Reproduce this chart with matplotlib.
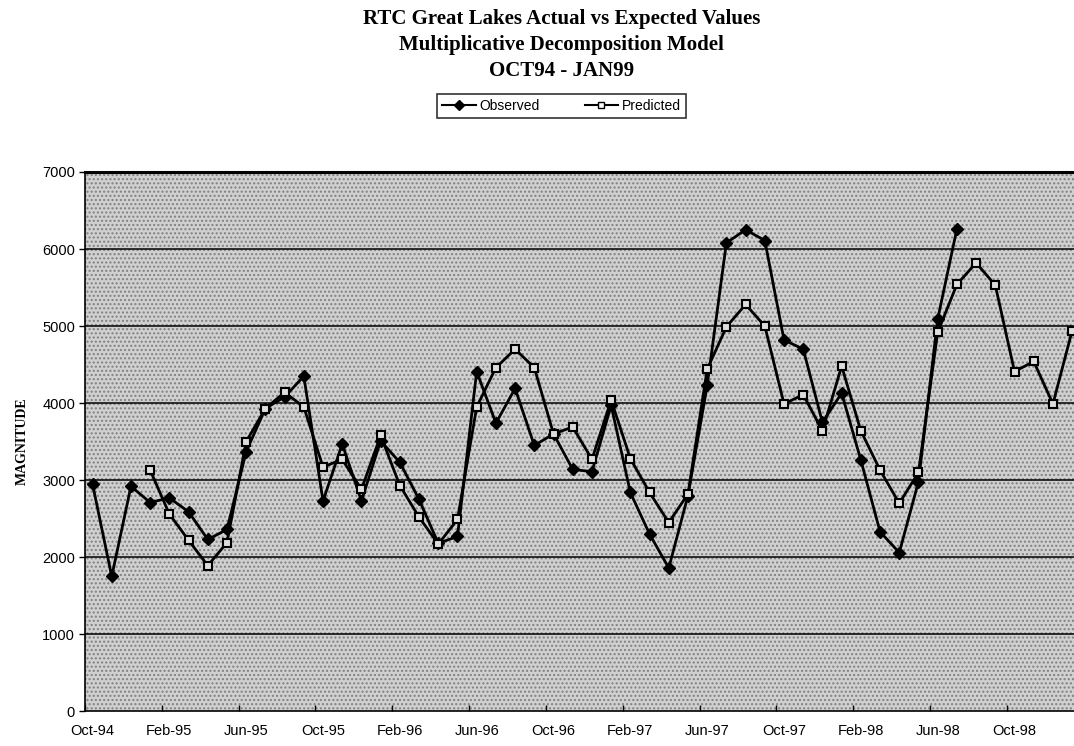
import matplotlib
matplotlib.use("Agg")
import matplotlib.pyplot as plt
import numpy as np
from matplotlib.patches import Rectangle
from matplotlib.lines import Line2D

# monthly categories Oct-94 .. Jan-99
months = ['Oct-94', 'Nov-94', 'Dec-94', 'Jan-95', 'Feb-95', 'Mar-95', 'Apr-95', 'May-95',
          'Jun-95', 'Jul-95', 'Aug-95', 'Sep-95', 'Oct-95', 'Nov-95', 'Dec-95', 'Jan-96',
          'Feb-96', 'Mar-96', 'Apr-96', 'May-96', 'Jun-96', 'Jul-96', 'Aug-96', 'Sep-96',
          'Oct-96', 'Nov-96', 'Dec-96', 'Jan-97', 'Feb-97', 'Mar-97', 'Apr-97', 'May-97',
          'Jun-97', 'Jul-97', 'Aug-97', 'Sep-97', 'Oct-97', 'Nov-97', 'Dec-97', 'Jan-98',
          'Feb-98', 'Mar-98', 'Apr-98', 'May-98', 'Jun-98', 'Jul-98', 'Aug-98', 'Sep-98',
          'Oct-98', 'Nov-98', 'Dec-98', 'Jan-99']

observed = [2950, 1750, 2920, 2710, 2770, 2590, 2230, 2360, 3370, 3930, 4080, 4350,
            2730, 3470, 2730, 3510, 3230, 2750, 2180, 2270, 4410, 3740, 4190, 3450,
            3600, 3140, 3110, 3970, 2840, 2300, 1860, 2800, 4230, 6080, 6250, 6110,
            4820, 4700, 3750, 4130, 3260, 2330, 2060, 2980, 5090, 6260]

predicted = [None, None, None, 3130, 2560, 2220, 1890, 2190, 3500, 3930, 4140, 3950,
             3170, 3270, 2880, 3580, 2930, 2520, 2170, 2490, 3950, 4460, 4700, 4460,
             3600, 3690, 3270, 4040, 3280, 2840, 2450, 2820, 4440, 4990, 5280, 5000,
             3990, 4110, 3640, 4480, 3640, 3130, 2700, 3100, 4920, 5540, 5820, 5530,
             4410, 4540, 3990, 4940]

tick_labels = months[::4]

title = ('RTC Great Lakes Actual vs Expected Values\n'
         'Multiplicative Decomposition Model\n'
         'OCT94 - JAN99')

fig = plt.figure(figsize=(10.74, 7.46), dpi=100)
ax = fig.add_axes([0.079, 0.0465, 0.93, 0.723])

x_obs = np.arange(len(observed))
pred = np.array([np.nan if v is None else v for v in predicted], dtype=float)
x_pred = np.arange(len(pred))

# halftone-ish background
ax.set_facecolor('#d0d0d0')
ax.add_patch(Rectangle((0, 0), 1, 1, transform=ax.transAxes, facecolor='none',
                       edgecolor='#808080', hatch='....', linewidth=0, zorder=0))

for v in range(1000, 7000, 1000):
    ax.axhline(v, color='black', linewidth=1.1, zorder=1)

ax.plot(x_obs, observed, color='black', linewidth=2, marker='D', markersize=6,
        markerfacecolor='black', markeredgecolor='black', zorder=3)
ax.plot(x_pred, pred, color='black', linewidth=2, marker='s', markersize=6,
        markerfacecolor='#dddddd', markeredgecolor='black', markeredgewidth=1.5, zorder=4)

ax.set_xlim(-0.4, 51.6)
ax.set_ylim(0, 7000)
ax.set_yticks(range(0, 7001, 1000))
ax.tick_params(axis='y', length=4, width=1, labelsize=10.5, pad=3)

# tick marks between categories, labels under the category
ax.set_xticks(np.arange(0, 52, 4) - 0.4)
ax.set_xticklabels([])
ax.set_xticks(np.arange(0, 52, 4), minor=True)
ax.set_xticklabels(tick_labels, minor=True)
ax.tick_params(axis='x', which='major', length=4, width=1, direction='in')
ax.tick_params(axis='x', which='minor', length=0, labelsize=10.5, pad=9)
for lab in ax.get_yticklabels() + ax.get_xticklabels(minor=True):
    lab.set_family('Liberation Sans')

for s in ['left', 'bottom']:
    ax.spines[s].set_linewidth(1.2)
ax.spines['top'].set_linewidth(2.2)
ax.spines['right'].set_visible(False)

ax.set_ylabel('MAGNITUDE', family='Liberation Serif', fontweight='bold', fontsize=10, labelpad=10)

fig.text(0.523, 0.988, title, ha='center', va='top', family='Liberation Serif',
         fontweight='bold', fontsize=15, linespacing=1.4)

handles = [Line2D([], [], color='black', linewidth=1.5, marker='D', markersize=5,
                  markerfacecolor='black'),
           Line2D([], [], color='black', linewidth=1.5, marker='s', markersize=5,
                  markerfacecolor='white')]
leg = fig.legend(handles, ['Observed', 'Predicted'], loc='center', ncol=2,
                 bbox_to_anchor=(0.523, 0.858), frameon=True, fancybox=False,
                 edgecolor='black', prop={'family': 'Liberation Sans', 'size': 10},
                 handlelength=2.4, handletextpad=0.3, columnspacing=3.2, borderpad=0.35)
leg.get_frame().set_linewidth(1.2)

fig.savefig('out.png', dpi=100)
